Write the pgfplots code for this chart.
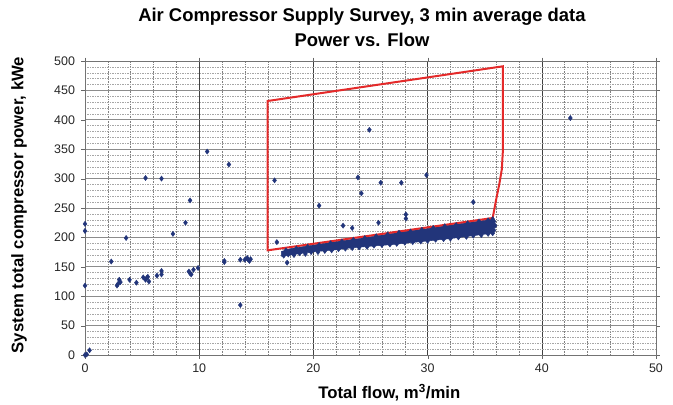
\documentclass[border=0pt]{standalone}
\usepackage{fontspec}
\setmainfont{Liberation Sans}
\usepackage{pgfplots}
\pgfplotsset{compat=1.18}
\definecolor{navy}{RGB}{34,53,122}
\definecolor{boxred}{RGB}{228,42,42}
\begin{document}
\begin{tikzpicture}
\path (-85bp,-47bp) rectangle (588bp,355bp);
\begin{axis}[
  scale only axis, width=571bp, height=294bp,
  xmin=0, xmax=50, ymin=0, ymax=500,
  xtick={0,10,...,50}, ytick={0,50,...,500},
  minor x tick num=4, minor y tick num=4,
  grid=both,
  major x grid style={black!75, line width=0.5bp},
  minor x grid style={black!50, dash pattern=on 1.5bp off 1bp, line width=0.4bp},
  major y grid style={black!45, line width=1bp},
  minor y grid style={black!35, dash pattern=on 1.5bp off 1bp, line width=0.4bp},
  axis line style={black!55, line width=0.8bp},
  tick align=outside, major tick length=3.5bp, minor tick length=0pt,
  tick style={black!60},
  tick label style={font=\fontsize{12.5}{14}\selectfont, text=black!85},
  /pgf/number format/assume math mode=true,
  xticklabel style={yshift=-2bp},
  yticklabel style={xshift=-3bp},
  xlabel={Total flow, m\textsuperscript{3}/min},
  ylabel={System total compressor power, kWe},
  label style={font=\bfseries\fontsize{16.8}{18}\selectfont},
  xlabel style={at={(axis description cs:0.533,0)}, anchor=base, yshift=-43.3bp},
  ylabel style={at={(axis description cs:-0.1156,0.51)}, anchor=center},
  clip=false,
]
\addplot[fill=navy, draw=navy, line width=0.5bp] coordinates {
 (17.2,168) (18,170) (19,173) (20.3,176) (22,179) (23.2,182) (25,185) (27,188)
 (30,194) (32,198) (34,203) (35.6,207) (35.8,210) (35.6,214) (35.9,218)
 (35.7,224) (35.8,229) (35.6,231) (35,229) (32,221) (30,215) (28,210)
 (26,204) (24,198) (22,193) (20,187) (18,181) (17.2,176)} -- cycle;
\addplot[only marks, mark=diamond*, mark size=2.6bp, color=navy] coordinates {
 (17.4,169) (17.8,171) (18.3,170) (18.8,173) (19.3,172) (19.8,175) (20.4,175)
 (21,177) (21.6,178) (22.2,180) (22.8,181) (23.4,182) (24,183) (24.7,184)
 (25.3,186) (26,187) (26.7,188) (27.3,189) (28,191) (28.7,192) (29.4,193)
 (30,194) (30.7,196) (31.4,197) (32,198) (32.7,200) (33.4,201) (34,203)
 (34.7,204) (35.3,206) (35.7,207)
 (17.6,178) (18.5,181) (19.5,184) (20.5,187) (21.5,190) (22.5,193) (23.5,196)
 (24.5,199) (25.5,202) (26.5,205) (27.5,208) (28.5,210) (29.5,213) (30.5,216)
 (31.5,219) (32.5,221) (33.5,224) (34.5,227) (35.3,229) (35.7,231)
 (35.8,212) (35.6,216) (35.9,220) (35.7,224) (35.8,227)
 (0,0) (0.15,1) (0.4,8) (0,223) (0,211) (0,118)
 (2.3,159) (3.6,199) (2.8,118) (2.9,121) (3.0,128) (3.1,124) (3.9,128)
 (4.5,123) (5.1,132) (5.3,128) (5.5,133) (5.6,125) (5.4,131) (6.3,135)
 (6.7,143) (6.7,137) (7.7,206) (8.8,225) (9.1,142) (9.2,139) (9.3,137)
 (9.5,145) (9.9,148) (12.2,160) (12.2,158) (13.6,162) (13.6,85) (14.0,162)
 (14.2,165) (14.4,160) (14.5,163) (14.3,162)
 (5.3,301) (6.7,300) (10.7,346) (12.6,324) (9.2,263) (16.6,297) (16.8,192)
 (17.7,157) (24.9,383) (23.9,302) (24.2,275) (25.9,293) (27.7,293) (29.9,306)
 (20.5,254) (34.0,260) (28.1,239) (28.1,232) (25.7,225) (22.6,220) (23.4,216)
 (42.5,403)};
\addplot[boxred, line width=2bp, line join=miter] coordinates {
 (16,178) (16,432) (36.6,491) (36.6,350) (36.5,316) (36.3,293) (36.0,264)
 (35.7,233)} -- cycle;
\node[font=\bfseries\fontsize{18.5}{20}\selectfont, anchor=base]
  at (axis description cs:0.485,1) [yshift=39.3bp] {Air Compressor Supply Survey, 3 min average data};
\node[font=\bfseries\fontsize{18.5}{20}\selectfont, anchor=base]
  at (axis description cs:0.485,1) [yshift=14.3bp] {Power vs. Flow};
\end{axis}
\end{tikzpicture}
\end{document}
